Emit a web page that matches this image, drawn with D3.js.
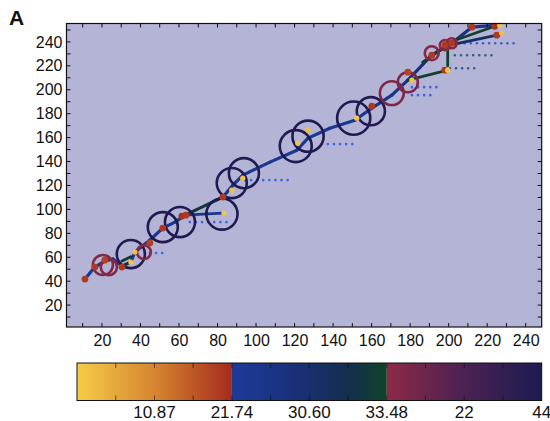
<!DOCTYPE html>
<html>
<head>
<meta charset="utf-8">
<script src="https://cdn.jsdelivr.net/npm/d3@7"></script>
<style>
  html, body { margin: 0; padding: 0; background: #ffffff; }
  svg { display: block; font-family: "Liberation Sans", Arial, Helvetica, sans-serif; }
</style>
</head>
<body>
<svg id="chart" width="550" height="421"></svg>
<script>
// ---------------- DATA ----------------
const xTickValues = [20, 40, 60, 80, 100, 120, 140, 160, 180, 200, 220, 240];
const yTickValues = [20, 40, 60, 80, 100, 120, 140, 160, 180, 200, 220, 240];

// main track (line colour value per segment, blue→green scale)
const trackX = [11.2, 16.3, 21.5, 25.7, 30.4, 35.0, 37.1, 44.9, 51.6, 57.9, 63.1, 82.8, 88.0, 93.1, 107.2, 121.2, 127.0, 138.3, 151.3, 160.1, 170.5, 178.8, 191.2, 201.6, 212.0, 225.5];
const trackY = [41.8, 51.8, 56.8, 58.5, 52.6, 56.0, 64.3, 74.4, 84.4, 89.4, 95.2, 110.3, 120.3, 128.7, 139.5, 149.5, 159.6, 167.9, 174.6, 184.6, 195.5, 208.0, 228.9, 238.9, 252.3, 254.0];
const trackVal = [23, 23, 24, 24, 31, 24, 23, 23, 23, 23, 32, 24, 23, 23, 23, 23, 23, 23, 23, 24, 25, 26, 27, 26, 24];

// side branches
const branchX1 = [63.1, 178.8, 186.5, 199.0, 200.6, 199.5, 30.4];
const branchY1 = [95.2, 208.0, 223.1, 238.9, 237.3, 235.6, 56.8];
const branchX2 = [82.3, 199.5, 199.5, 223.9, 225.0, 199.5, 35.0];
const branchY2 = [96.9, 216.4, 237.3, 253.1, 245.6, 220.0, 60.5];
const branchVal = [23, 33, 33, 33, 29, 33, 32];

// circles: centre, radius (data units), colour value (crimson→navy scale)
const circleX = [35.0, 51.6, 60.5, 82.3, 87.4, 93.7, 120.6, 127.0, 150.7, 159.6, 20.5, 23.6, 41.8, 170.5, 178.8, 191.2, 198.0, 201.6];
const circleY = [62.7, 85.2, 89.4, 96.1, 122.0, 130.3, 152.9, 161.2, 176.3, 182.1, 53.5, 51.8, 64.3, 197.2, 206.3, 230.6, 237.3, 238.9];
const circleR = [7.3, 7.8, 7.8, 8.1, 7.8, 7.8, 8.3, 8.1, 8.6, 7.3, 5.2, 4.2, 3.6, 6.2, 5.2, 3.6, 2.6, 2.6];
const circleVal = [42, 43, 43, 44, 42, 42, 43, 43, 44, 42, 4, 3, 2, 6, 5, 3, 2, 2];

// point markers (yellow→red scale)
const dotX = [11.2, 16.3, 21.5, 30.4, 51.6, 61.5, 63.6, 82.8, 160.1, 178.8, 198.0, 212.0, 223.9, 225.0, 198.0, 201.6, 191.2, 44.9,
              35.0, 37.1, 83.3, 87.4, 93.1, 121.7, 127.0, 152.3, 180.9, 199.5, 226.5, 227.5];
const dotY = [41.8, 51.8, 57.6, 51.8, 84.4, 94.4, 95.2, 110.3, 186.3, 214.7, 216.4, 252.3, 253.1, 245.6, 237.3, 238.9, 228.9, 72.0,
              56.0, 64.3, 96.9, 116.1, 126.1, 155.4, 166.2, 176.3, 208.0, 216.4, 254.0, 247.3];
const dotVal = [20, 20, 19, 20, 20, 21, 20, 20, 20, 19, 20, 20, 21, 20, 20, 20, 20, 19,
                1, 2, 1, 2, 2, 1, 2, 1, 1, 1, 1, 2];

// dotted offset tracks
const dotTrackX1 = [44.9, 65.6, 94.2, 134.1, 180.9, 180.9, 200.6, 203.2, 208.3];
const dotTrackX2 = [52.7, 87.4, 118.6, 152.3, 191.2, 196.4, 215.1, 223.9, 234.3];
const dotTrackY  = [63.5, 89.4, 124.5, 154.6, 195.5, 202.2, 218.0, 228.9, 238.9];
const dotTrackVal = [23, 23, 23, 23, 24, 24, 30, 31, 26];

// colour bar
const cbarLabels = ["10.87", "21.74", "30.60", "33.48", "22", "44"];

// ---------------- LAYOUT ----------------
const svg = d3.select("#chart");
const L = 66.5, R = 541.7, T = 23.5, B = 327;
const x = d3.scaleLinear().domain([1.6, 248.3]).range([L, R]);
const y = d3.scaleLinear().domain([1.7, 255.4]).range([B, T]);

const dotColor = d3.scaleLinear().domain([0, 10.87, 21.74]).range(["#f6cc48", "#d68530", "#a52b1d"]);
const lineColor = d3.scaleLinear().domain([21.74, 26.5, 30.6, 33.48]).range(["#1d3a98", "#19307a", "#142e4c", "#10432a"]);
const circColor = d3.scaleLinear().domain([0, 22, 44]).range(["#8e2947", "#4b2253", "#1d1b50"]);

// plot background
svg.append("rect").attr("x", L).attr("y", T).attr("width", R - L).attr("height", B - T)
  .attr("fill", "#b4b4d7");

const g = svg.append("g");

// dotted offset tracks
g.selectAll("line.dt").data(dotTrackY).join("line")
  .attr("x1", (d, i) => x(dotTrackX1[i])).attr("x2", (d, i) => x(dotTrackX2[i]))
  .attr("y1", d => y(d)).attr("y2", d => y(d))
  .attr("stroke", (d, i) => d3.color(lineColor(dotTrackVal[i])).brighter(1.3))
  .attr("stroke-width", 2.6).attr("stroke-linecap", "round")
  .attr("stroke-dasharray", "0.1,6").attr("opacity", 0.85);

// main track segments
const segs = d3.range(trackX.length - 1);
g.selectAll("line.tr").data(segs).join("line")
  .attr("x1", i => x(trackX[i])).attr("y1", i => y(trackY[i]))
  .attr("x2", i => x(trackX[i + 1])).attr("y2", i => y(trackY[i + 1]))
  .attr("stroke", i => lineColor(trackVal[i]))
  .attr("stroke-width", 3.2).attr("stroke-linecap", "round");

// branches
g.selectAll("line.br").data(branchVal).join("line")
  .attr("x1", (d, i) => x(branchX1[i])).attr("y1", (d, i) => y(branchY1[i]))
  .attr("x2", (d, i) => x(branchX2[i])).attr("y2", (d, i) => y(branchY2[i]))
  .attr("stroke", d => lineColor(d))
  .attr("stroke-width", 2.8).attr("stroke-linecap", "round");

// circles
g.selectAll("circle.c").data(circleVal).join("circle")
  .attr("cx", (d, i) => x(circleX[i])).attr("cy", (d, i) => y(circleY[i]))
  .attr("r", (d, i) => x(circleR[i]) - x(0))
  .attr("fill", "none").attr("stroke", d => circColor(d)).attr("stroke-width", 2.6);

// dots
g.selectAll("circle.d").data(dotVal).join("circle")
  .attr("cx", (d, i) => x(dotX[i])).attr("cy", (d, i) => y(dotY[i]))
  .attr("r", d => d > 10 ? 3.4 : 2.6)
  .attr("fill", d => dotColor(d));

// frame
svg.append("rect").attr("x", L).attr("y", T).attr("width", R - L).attr("height", B - T)
  .attr("fill", "none").attr("stroke", "#111").attr("stroke-width", 1.2);

// inward ticks every 10
const minorX = d3.range(10, 250, 10);
const minorY = d3.range(10, 256, 10);
const tk = 4;
svg.append("g").selectAll("line").data(minorX).join("line")
  .attr("x1", d => x(d)).attr("x2", d => x(d)).attr("y1", B).attr("y2", B - tk)
  .attr("stroke", "#111").attr("stroke-width", 1);
svg.append("g").selectAll("line").data(minorX).join("line")
  .attr("x1", d => x(d)).attr("x2", d => x(d)).attr("y1", T).attr("y2", T + tk)
  .attr("stroke", "#111").attr("stroke-width", 1);
svg.append("g").selectAll("line").data(minorY).join("line")
  .attr("y1", d => y(d)).attr("y2", d => y(d)).attr("x1", L).attr("x2", L + tk)
  .attr("stroke", "#111").attr("stroke-width", 1);
svg.append("g").selectAll("line").data(minorY).join("line")
  .attr("y1", d => y(d)).attr("y2", d => y(d)).attr("x1", R).attr("x2", R - tk)
  .attr("stroke", "#111").attr("stroke-width", 1);

// axis labels with d3 axes (no lines)
const xAxis = svg.append("g").attr("transform", `translate(0,${B})`)
  .call(d3.axisBottom(x).tickValues(xTickValues).tickSize(0).tickPadding(8).tickFormat(d3.format("d")));
xAxis.select(".domain").remove();
xAxis.selectAll("text").attr("font-size", 16).attr("fill", "#111")
  .attr("font-family", "Liberation Sans, Arial, sans-serif");

const yAxis = svg.append("g").attr("transform", `translate(${L},0)`)
  .call(d3.axisLeft(y).tickValues(yTickValues).tickSize(0).tickPadding(4).tickFormat(d3.format("d")));
yAxis.select(".domain").remove();
yAxis.selectAll("text").attr("font-size", 16).attr("fill", "#111")
  .attr("font-family", "Liberation Sans, Arial, sans-serif");

// panel letter
svg.append("text").attr("x", 9).attr("y", 25).text("A")
  .attr("font-size", 21).attr("font-weight", "bold").attr("fill", "#111");

// ---------------- COLOUR BAR ----------------
const cbL = 77, cbR = 541.7, cbT = 363, cbB = 400.5;
const cb = d3.scaleLinear().domain([0, 6]).range([cbL, cbR]);
const defs = svg.append("defs");
const segDefs = [
  { id: "g1", scale: dotColor, dom: [0, 21.74] },
  { id: "g2", scale: lineColor, dom: [21.74, 33.48] },
  { id: "g3", scale: circColor, dom: [0, 44] }
];
segDefs.forEach((s, k) => {
  const grad = defs.append("linearGradient").attr("id", s.id).attr("x1", "0%").attr("x2", "100%");
  d3.range(0, 1.0001, 0.1).forEach(t => {
    grad.append("stop").attr("offset", (t * 100) + "%")
      .attr("stop-color", s.scale(s.dom[0] + t * (s.dom[1] - s.dom[0])));
  });
  svg.append("rect").attr("x", cb(2 * k)).attr("y", cbT)
    .attr("width", cb(2 * k + 2) - cb(2 * k)).attr("height", cbB - cbT)
    .attr("fill", `url(#${s.id})`);
});
svg.append("rect").attr("x", cbL).attr("y", cbT).attr("width", cbR - cbL).attr("height", cbB - cbT)
  .attr("fill", "none").attr("stroke", "#111").attr("stroke-width", 1);
const cbTicks = d3.range(0.5, 6, 0.5);
svg.append("g").selectAll("line").data(cbTicks).join("line")
  .attr("x1", d => cb(d)).attr("x2", d => cb(d)).attr("y1", cbB).attr("y2", cbB - 5)
  .attr("stroke", "#111").attr("stroke-width", 0.9).attr("opacity", 0.7);
svg.append("g").selectAll("line").data(cbTicks).join("line")
  .attr("x1", d => cb(d)).attr("x2", d => cb(d)).attr("y1", cbT).attr("y2", cbT + 5)
  .attr("stroke", "#111").attr("stroke-width", 0.9).attr("opacity", 0.7);
svg.append("g").selectAll("text").data(cbarLabels).join("text")
  .attr("x", (d, i) => cb(i + 1)).attr("y", 418)
  .attr("text-anchor", "middle").attr("font-size", 17).attr("fill", "#111")
  .text(d => d);
</script>
</body>
</html>
